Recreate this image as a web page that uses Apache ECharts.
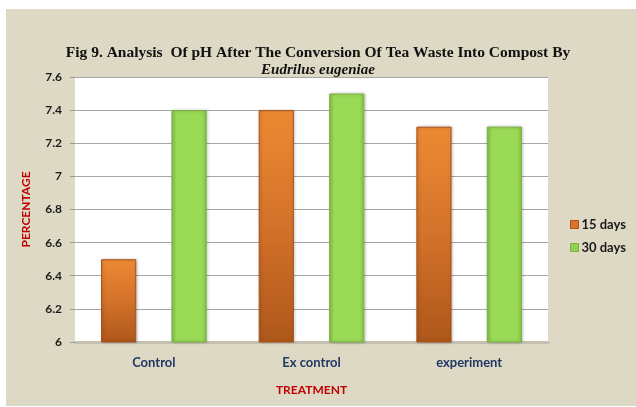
<!DOCTYPE html>
<html>
<head>
<meta charset="utf-8">
<style>
  html, body { margin: 0; padding: 0; background: #ffffff; }
  #chart { width: 636px; height: 407px; }
</style>
<script src="https://cdn.jsdelivr.net/npm/echarts@6/dist/echarts.min.js"></script>
</head>
<body>
<div id="chart"></div>
<script>
// pH of tea-waste compost by treatment
const categories = ['Control', 'Ex control', 'experiment'];
const seriesNames = ['15 days', '30 days'];
const days15 = [6.5, 7.4, 7.3];
const days30 = [7.4, 7.5, 7.3];
const yTicks = { min: 6, max: 7.6, step: 0.2 };

const titleLine1 = 'Fig 9. Analysis  Of pH After The Conversion Of Tea Waste Into Compost By';
const titleLine2 = 'Eudrilus eugeniae';

const chart = echarts.init(document.getElementById('chart'), null, { renderer: 'canvas' });

const orangeFill = new echarts.graphic.LinearGradient(0, 0, 0, 1, [
  { offset: 0, color: '#EC8A33' },
  { offset: 0.5, color: '#D3722A' },
  { offset: 1, color: '#AE571B' }
]);
const greenFill = new echarts.graphic.LinearGradient(0, 0, 1, 0, [
  { offset: 0, color: '#86C548' },
  { offset: 0.15, color: '#9ADA56' },
  { offset: 0.85, color: '#9ADA56' },
  { offset: 1, color: '#86C548' }
]);

const serifTitle = {
  fontFamily: "'Liberation Serif', 'Times New Roman', 'DejaVu Serif', serif",
  fontWeight: 'bold',
  color: '#111111'
};

const option = {
  backgroundColor: '#ffffff',
  animation: false,
  graphic: [{
    type: 'rect',
    z: -10,
    shape: { x: 6, y: 9, width: 630, height: 397 },
    style: { fill: '#DDD9C4' }
  }],
  title: [
    {
      left: 'center',
      top: 45,
      padding: 0,
      text: titleLine1,
      textStyle: Object.assign({ fontSize: 15.5 }, serifTitle)
    },
    {
      left: 'center',
      top: 63,
      padding: 0,
      text: titleLine2,
      textStyle: Object.assign({ fontSize: 15, fontStyle: 'italic' }, serifTitle)
    }
  ],
  legend: {
    orient: 'vertical',
    left: 565,
    top: 213,
    itemWidth: 8,
    itemHeight: 8,
    itemGap: 10,
    icon: 'rect',
    textStyle: {
      fontFamily: 'Lato',
      fontWeight: 'bold',
      fontSize: 13,
      color: '#1a1a1a',
      padding: [0, 0, 0, -2]
    },
    data: [
      { name: seriesNames[0], itemStyle: { color: '#D9742A', borderColor: '#A9541A', borderWidth: 1, shadowBlur: 0 } },
      { name: seriesNames[1], itemStyle: { color: '#92D050', borderColor: '#7DB243', borderWidth: 1, shadowBlur: 0 } }
    ]
  },
  grid: {
    left: 75,
    right: 88,
    top: 77,
    bottom: 65,
    show: true,
    backgroundColor: '#ffffff',
    borderWidth: 0
  },
  xAxis: {
    type: 'category',
    data: categories,
    name: 'TREATMENT',
    nameLocation: 'middle',
    nameGap: 42,
    nameTextStyle: {
      fontFamily: 'Lato',
      fontWeight: 'bold',
      fontSize: 12,
      color: '#C00000'
    },
    axisLine: { show: true, lineStyle: { color: '#C4C0B2', width: 3 } },
    axisTick: { show: false },
    axisLabel: {
      margin: 14,
      fontFamily: 'Lato',
      fontWeight: 'bold',
      fontSize: 13,
      color: '#1F3864'
    }
  },
  yAxis: {
    type: 'value',
    min: yTicks.min,
    max: yTicks.max,
    interval: yTicks.step,
    name: 'PERCENTAGE',
    nameLocation: 'middle',
    nameGap: 43,
    nameTextStyle: {
      fontFamily: 'Lato',
      fontWeight: 'bold',
      fontSize: 12,
      color: '#C00000'
    },
    axisLine: { show: false },
    axisTick: { show: true, length: 5, lineStyle: { color: '#9a9a9a' } },
    splitLine: { show: true, lineStyle: { color: '#A6A6A6', width: 1 } },
    axisLabel: {
      margin: 13,
      fontFamily: 'Lato',
      fontWeight: 'bold',
      fontSize: 12,
      color: '#1a1a1a',
      formatter: v => String(Math.round(v * 10) / 10)
    }
  },
  series: [
    {
      name: seriesNames[0],
      type: 'bar',
      data: days15,
      barGap: '100%',
      barCategoryGap: '33%',
      itemStyle: {
        color: orangeFill,
        borderColor: '#A9541A',
        borderWidth: 1,
        shadowColor: 'rgba(0,0,0,0.25)',
        shadowBlur: 3,
        shadowOffsetX: 1
      }
    },
    {
      name: seriesNames[1],
      type: 'bar',
      data: days30,
      itemStyle: {
        color: greenFill,
        borderColor: '#7DB243',
        borderWidth: 1,
        shadowColor: 'rgba(0,0,0,0.25)',
        shadowBlur: 3,
        shadowOffsetX: 1
      }
    }
  ]
};

chart.setOption(option);
</script>
</body>
</html>
